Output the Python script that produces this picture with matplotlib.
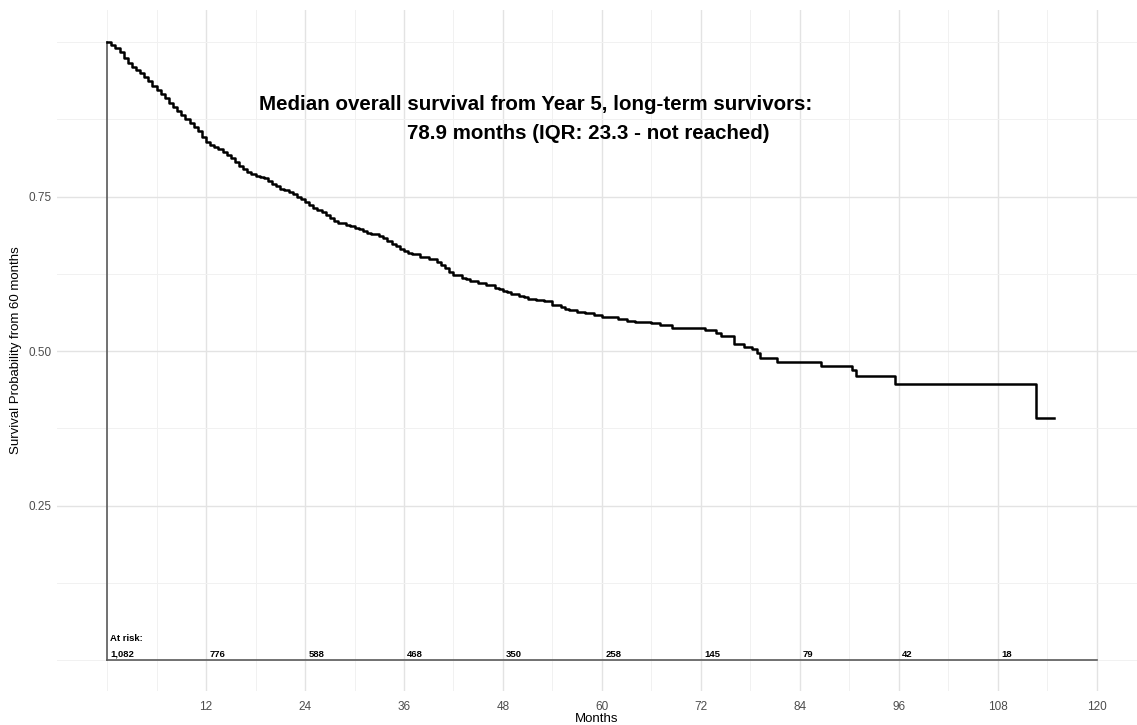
import matplotlib
matplotlib.use("Agg")
import matplotlib.pyplot as plt
import numpy as np

plt.rcParams['font.family'] = ['Liberation Sans', 'DejaVu Sans']

# Kaplan-Meier estimate (months from year 5, survival)
times = [0, 0.5, 1, 1.5, 2, 2.5, 3, 3.5, 4, 4.5, 5, 5.5, 6, 6.5, 7, 7.5, 8, 8.5,
         9, 9.5, 10, 10.5, 11, 11.5, 12, 12.5, 13, 13.5, 14, 14.5, 15, 15.5, 16,
         16.5, 17, 17.5, 18, 18.5, 19, 19.5, 20, 20.5, 21, 21.5, 22, 22.5, 23,
         23.5, 24, 24.5, 25, 25.5, 26, 26.5, 27, 27.5, 28, 29, 29.5, 30, 30.5,
         31, 31.5, 32, 33, 33.5, 34, 34.5, 35, 35.5, 36, 36.5, 37, 38, 39, 40,
         40.5, 41, 41.5, 42, 43, 43.5, 44, 45, 46, 47, 47.5, 48, 48.5, 49, 50,
         50.5, 51, 52, 53, 54, 55, 55.5, 56, 57, 58, 59, 60, 61, 62, 63, 64, 66,
         67, 68.5, 72.5, 73.8, 74.5, 76, 77.2, 78.2, 78.8, 79.2, 81.3, 86.6,
         90.3, 90.8, 95.5, 112.7, 114.8]
surv = [1.000, 0.996, 0.990, 0.984, 0.975, 0.967, 0.960, 0.955, 0.950, 0.944,
        0.937, 0.929, 0.922, 0.916, 0.909, 0.902, 0.895, 0.889, 0.882, 0.876,
        0.870, 0.863, 0.856, 0.847, 0.838, 0.834, 0.830, 0.827, 0.823, 0.818,
        0.812, 0.806, 0.800, 0.795, 0.790, 0.786, 0.784, 0.782, 0.780, 0.775,
        0.771, 0.767, 0.763, 0.761, 0.758, 0.754, 0.750, 0.746, 0.741, 0.736,
        0.732, 0.729, 0.725, 0.720, 0.716, 0.711, 0.707, 0.704, 0.702, 0.700,
        0.697, 0.695, 0.692, 0.690, 0.687, 0.683, 0.679, 0.674, 0.670, 0.666,
        0.662, 0.659, 0.657, 0.653, 0.649, 0.644, 0.640, 0.634, 0.628, 0.623,
        0.619, 0.616, 0.614, 0.610, 0.607, 0.603, 0.600, 0.598, 0.595, 0.593,
        0.590, 0.587, 0.585, 0.583, 0.581, 0.575, 0.571, 0.569, 0.567, 0.564,
        0.561, 0.558, 0.556, 0.555, 0.552, 0.549, 0.548, 0.546, 0.542, 0.538,
        0.534, 0.530, 0.524, 0.512, 0.507, 0.503, 0.497, 0.489, 0.482, 0.476,
        0.469, 0.459, 0.447, 0.392, 0.392]

risk_times = [0, 12, 24, 36, 48, 60, 72, 84, 96, 108]
risk_counts = ['1,082', '776', '588', '468', '350', '258', '145', '79', '42', '18']

x_ticks = [12, 24, 36, 48, 60, 72, 84, 96, 108, 120]
y_ticks = [0.25, 0.50, 0.75]

fig = plt.figure(figsize=(11.37, 7.25), dpi=100)
ax = fig.add_axes([0.050, 0.047, 0.950, 0.939])

ax.set_xlim(-6.1, 124.9)
ax.set_ylim(-0.05, 1.052)

# grid, minimal theme
ax.set_xticks(x_ticks)
ax.set_xticks([0] + [t - 6 for t in x_ticks], minor=True)
ax.set_yticks(y_ticks)
ax.set_yticklabels(['0.25', '0.50', '0.75'])
ax.set_yticks([0, 0.125, 0.375, 0.625, 0.875, 1.0], minor=True)
ax.grid(which='major', color='#e3e3e3', linewidth=1.0)
ax.grid(which='minor', color='#f1f1f1', linewidth=0.7)
ax.set_axisbelow(True)
ax.tick_params(which='both', length=0, labelsize=8.5, labelcolor='#4d4d4d')
ax.tick_params(axis='x', pad=7)
for s in ax.spines.values():
    s.set_visible(False)

# axis segments
ax.plot([0, 0], [0, 1], color='#5a5a5a', linewidth=1.2)
ax.plot([0, 120], [0, 0], color='#5a5a5a', linewidth=1.2)

ax.step(times, surv, where='post', color='black', linewidth=1.8)

ax.text(0.4, 0.027, 'At risk:', fontsize=6.8, fontweight='bold', ha='left', va='bottom')
for t, c in zip(risk_times, risk_counts):
    ax.text(t + 0.4, 0.002, c, fontsize=6.8, fontweight='bold', ha='left', va='bottom')

ax.text(18.4, 0.90, 'Median overall survival from Year 5, long-term survivors:',
        fontsize=14.8, fontweight='bold', ha='left', va='center')
ax.text(36.4, 0.853, '78.9 months (IQR: 23.3 - not reached)',
        fontsize=14.8, fontweight='bold', ha='left', va='center')

ax.set_xlabel('Months', fontsize=9.5, labelpad=0.5)
ax.set_ylabel('Survival Probability from 60 months', fontsize=9.5, labelpad=5)

fig.savefig('out.png', dpi=100)
